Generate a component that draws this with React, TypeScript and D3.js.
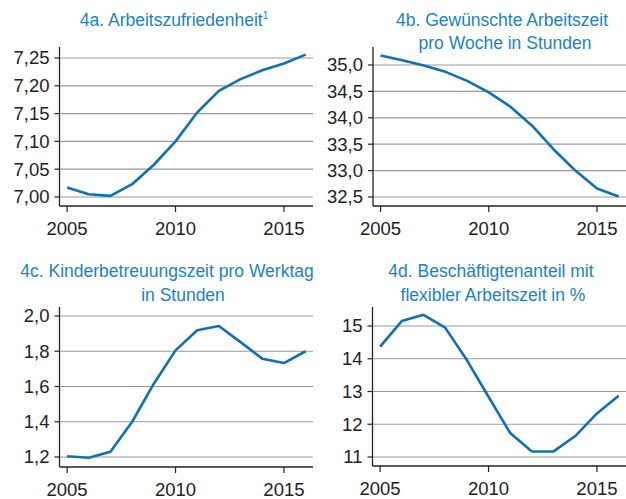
import React from "react";
import * as d3 from "d3";

const years = [2005, 2006, 2007, 2008, 2009, 2010, 2011, 2012, 2013, 2014, 2015, 2016];
const xTicks = [2005, 2010, 2015];

const satisfaction = [7.017, 7.005, 7.002, 7.023, 7.058, 7.1, 7.152, 7.191, 7.212, 7.228, 7.24, 7.256];
const satisfactionTicks = [7.0, 7.05, 7.1, 7.15, 7.2, 7.25];

const desiredHours = [35.18, 35.09, 34.99, 34.87, 34.7, 34.48, 34.21, 33.85, 33.4, 33.0, 32.66, 32.51];
const desiredHoursTicks = [32.5, 33.0, 33.5, 34.0, 34.5, 35.0];

const childcare = [1.204, 1.196, 1.23, 1.4, 1.616, 1.805, 1.919, 1.943, 1.852, 1.758, 1.733, 1.8];
const childcareTicks = [1.2, 1.4, 1.6, 1.8, 2.0];

const flexShare = [14.37, 15.15, 15.34, 14.95, 13.96, 12.84, 11.73, 11.17, 11.17, 11.64, 12.33, 12.87];
const flexShareTicks = [11, 12, 13, 14, 15];

const titleA = ["4a. Arbeitszufriedenheit"];
const titleB = ["4b. Gewünschte Arbeitszeit", "pro Woche in Stunden"];
const titleC = ["4c. Kinderbetreuungszeit pro Werktag", "in Stunden"];
const titleD = ["4d. Beschäftigtenanteil mit", "flexibler Arbeitszeit in %"];

const BLUE_TITLE = "#1b82c5";
const BLUE_LINE = "#0f70b5";
const FONT = "'Liberation Sans', Arial, Helvetica, sans-serif";

type PanelProps = {
  values: number[];
  ticks: number[];
  decimals: number;
  title: string[];
  titleCenters: number[];
  titleBaselines: number[];
  superscript?: string;
  left: number;
  right: number;
  top: number;
  bottom: number;
  gridTop: number;
  gridBottom: number;
};

function Panel(p: PanelProps) {
  const x = d3.scaleLinear().domain([2004.65, 2016.34]).range([p.left, p.right]);
  const tMin = d3.min(p.ticks) as number;
  const tMax = d3.max(p.ticks) as number;
  const y = d3.scaleLinear().domain([tMin, tMax]).range([p.gridBottom, p.gridTop]);
  const line = d3
    .line<number>()
    .x((_, i) => x(years[i]))
    .y((v) => y(v));
  const fmt = (v: number) => v.toFixed(p.decimals).replace(".", ",");
  return (
    <g>
      {p.title.map((t, i) => (
        <text
          key={i}
          x={p.titleCenters[i]}
          y={p.titleBaselines[i]}
          textAnchor="middle"
          fill={BLUE_TITLE}
          fontSize={17.5}
          fontFamily={FONT}
        >
          {t}
          {i === 0 && p.superscript ? (
            <tspan fontSize={10} dy={-7}>
              {p.superscript}
            </tspan>
          ) : null}
        </text>
      ))}
      {p.ticks.map((t) => (
        <g key={t}>
          <line x1={p.left} x2={p.right} y1={y(t)} y2={y(t)} stroke="#9a9a9a" strokeWidth={1.2} />
          <line x1={p.left - 5} x2={p.left} y1={y(t)} y2={y(t)} stroke="#222" strokeWidth={1.2} />
          <text
            x={p.left - 10}
            y={y(t)}
            dy="0.35em"
            textAnchor="end"
            fontSize={18.5}
            fill="#222"
            fontFamily={FONT}
          >
            {fmt(t)}
          </text>
        </g>
      ))}
      <line x1={p.left} x2={p.left} y1={p.top} y2={p.bottom} stroke="#222" strokeWidth={1.3} />
      <line x1={p.left} x2={p.right} y1={p.bottom} y2={p.bottom} stroke="#222" strokeWidth={1.3} />
      {xTicks.map((t) => (
        <g key={t}>
          <line x1={x(t)} x2={x(t)} y1={p.bottom} y2={p.bottom + 6} stroke="#222" strokeWidth={1.2} />
          <text
            x={x(t)}
            y={p.bottom + 29}
            textAnchor="middle"
            fontSize={18.5}
            fill="#222"
            fontFamily={FONT}
          >
            {t}
          </text>
        </g>
      ))}
      <path d={line(p.values) || ""} fill="none" stroke={BLUE_LINE} strokeWidth={2.6} strokeLinejoin="round" />
    </g>
  );
}

export default function App() {
  return (
    <svg
      width={626}
      height={499}
      style={{ position: "absolute", left: 0, top: 0, background: "#fff" }}
    >
      <Panel
        values={satisfaction}
        ticks={satisfactionTicks}
        decimals={2}
        title={titleA}
        superscript="1"
        titleCenters={[174]}
        titleBaselines={[26]}
        left={59.5}
        right={313}
        top={47}
        bottom={206}
        gridTop={58}
        gridBottom={197}
      />
      <Panel
        values={desiredHours}
        ticks={desiredHoursTicks}
        decimals={1}
        title={titleB}
        titleCenters={[502, 505]}
        titleBaselines={[26, 48.5]}
        left={373}
        right={626}
        top={47}
        bottom={206}
        gridTop={65}
        gridBottom={197}
      />
      <Panel
        values={childcare}
        ticks={childcareTicks}
        decimals={1}
        title={titleC}
        titleCenters={[167, 183]}
        titleBaselines={[277, 300.5]}
        left={59.5}
        right={313}
        top={307}
        bottom={467}
        gridTop={316}
        gridBottom={457}
      />
      <Panel
        values={flexShare}
        ticks={flexShareTicks}
        decimals={0}
        title={titleD}
        titleCenters={[491, 493]}
        titleBaselines={[277, 300.5]}
        left={372.5}
        right={626}
        top={307}
        bottom={466}
        gridTop={326}
        gridBottom={457}
      />
    </svg>
  );
}
